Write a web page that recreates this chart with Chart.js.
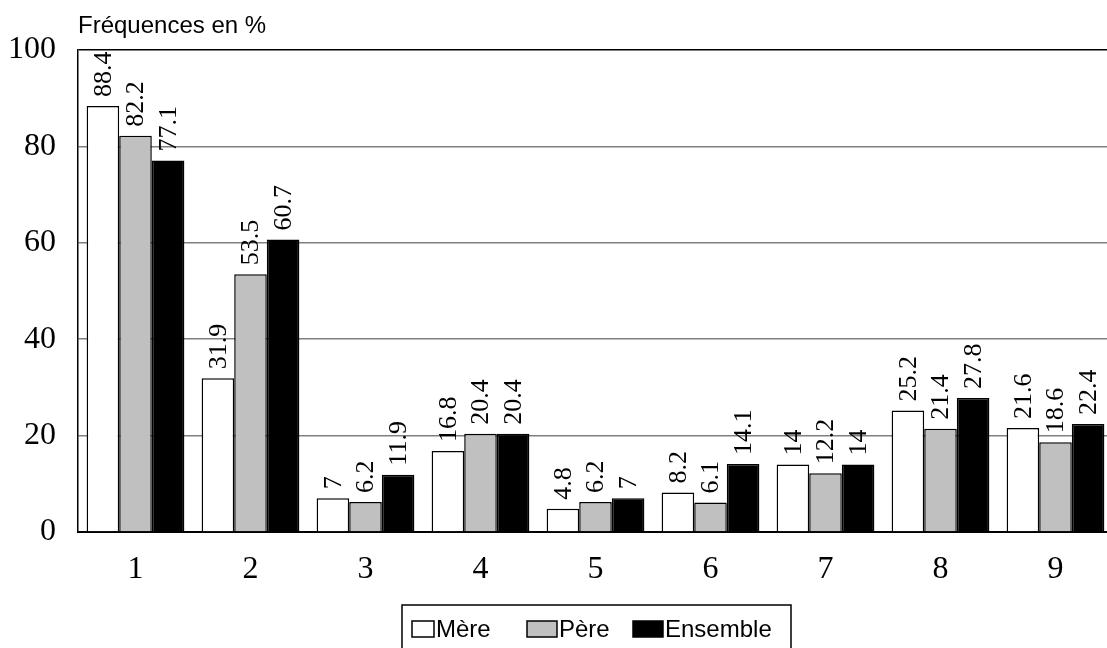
<!DOCTYPE html>
<html>
<head>
<meta charset="utf-8">
<script src="https://cdn.jsdelivr.net/npm/chart.js@4/dist/chart.umd.min.js"></script>
<style>
  html, body { margin: 0; padding: 0; background: #fff; overflow: hidden; }
  #wrap { width: 1115px; height: 648px; }
</style>
</head>
<body>
<div id="wrap"><canvas id="freq-chart" width="1115" height="648"></canvas></div>
<script>
var categories = ['1', '2', '3', '4', '5', '6', '7', '8', '9'];
var mere = [88.4, 31.9, 7, 16.8, 4.8, 8.2, 14, 25.2, 21.6];
var pere = [82.2, 53.5, 6.2, 20.4, 6.2, 6.1, 12.2, 21.4, 18.6];
var ensemble = [77.1, 60.7, 11.9, 20.4, 7, 14.1, 14, 27.8, 22.4];
var yTicks = [0, 20, 40, 60, 80, 100];

// value labels, written vertically above each bar
var barLabels = {
    id: 'barLabels',
    afterDatasetsDraw: function(chart) {
        var ctx = chart.ctx;
        ctx.save();
        ctx.font = '26px "Liberation Serif", "Times New Roman", serif';
        ctx.fillStyle = '#000';
        ctx.textAlign = 'left';
        ctx.textBaseline = 'middle';
        chart.data.datasets.forEach(function(ds, i) {
            chart.getDatasetMeta(i).data.forEach(function(bar, j) {
                ctx.save();
                ctx.translate(bar.x + 1, bar.y - 9);
                ctx.rotate(-Math.PI / 2);
                ctx.fillText(String(ds.data[j]), 0, 0);
                ctx.restore();
            });
        });
        ctx.restore();
    }
};

// title top-left and boxed legend at the bottom
var decorations = {
    id: 'decorations',
    afterDraw: function(chart) {
        var ctx = chart.ctx;
        ctx.save();
        ctx.fillStyle = '#000';
        ctx.font = '24px "Liberation Sans", Arial, sans-serif';
        ctx.textAlign = 'left';
        ctx.textBaseline = 'alphabetic';
        ctx.fillText('Fréquences en %', chart.chartArea.left, 33);

        // legend box
        ctx.strokeStyle = '#000';
        ctx.lineWidth = 1.5;
        ctx.strokeRect(402, 605, 389, 50);

        var swatchX = [412, 527, 633];
        var swatchW = [22, 30, 30];
        ctx.font = '24px "Liberation Sans", Arial, sans-serif';
        ctx.textBaseline = 'middle';
        chart.data.datasets.forEach(function(ds, i) {
            ctx.fillStyle = ds.backgroundColor;
            ctx.fillRect(swatchX[i], 621, swatchW[i], 16);
            ctx.lineWidth = 1.5;
            ctx.strokeRect(swatchX[i], 621, swatchW[i], 16);
            ctx.fillStyle = '#000';
            ctx.fillText(ds.label, swatchX[i] + swatchW[i] + 2, 630);
        });
        ctx.restore();
    }
};

var ctx = document.getElementById('freq-chart');
var freqChart = new Chart(ctx, {
    type: 'bar',
    data: {
        labels: categories,
        datasets: [{
            label: 'Mère',
            data: mere,
            backgroundColor: '#ffffff',
            borderColor: '#000000',
            borderWidth: 1.5
        }, {
            label: 'Père',
            data: pere,
            backgroundColor: '#c0c0c0',
            borderColor: '#000000',
            borderWidth: 1.5
        }, {
            label: 'Ensemble',
            data: ensemble,
            backgroundColor: '#000000',
            borderColor: '#000000',
            borderWidth: 1.5
        }]
    },
    options: {
        responsive: false,
        animation: false,
        layout: { padding: { top: 50, left: 0, right: 2, bottom: 0 } },
        datasets: {
            bar: { categoryPercentage: 0.85, barPercentage: 1.0 }
        },
        plugins: {
            legend: { display: false },
            tooltip: { enabled: false }
        },
        scales: {
            x: {
                grid: { display: false, drawTicks: false },
                border: { color: '#000', width: 2 },
                ticks: {
                    color: '#000',
                    padding: 18,
                    font: { family: '"Liberation Serif", "Times New Roman", serif', size: 32 }
                },
                afterFit: function(scale) { scale.height = 116; }
            },
            y: {
                min: 0,
                max: 100,
                afterBuildTicks: function(scale) {
                    scale.ticks = yTicks.map(function(v) { return { value: v }; });
                },
                grid: {
                    drawTicks: false,
                    lineWidth: 1.5,
                    color: function(c) { return c.tick && c.tick.value === 100 ? '#000' : '#808080'; }
                },
                border: { color: '#000', width: 1.5 },
                ticks: {
                    color: '#000',
                    padding: 22,
                    font: { family: '"Liberation Serif", "Times New Roman", serif', size: 32 }
                },
                afterFit: function(scale) { scale.width = 78; }
            }
        }
    },
    plugins: [barLabels, decorations]
});
</script>
</body>
</html>
